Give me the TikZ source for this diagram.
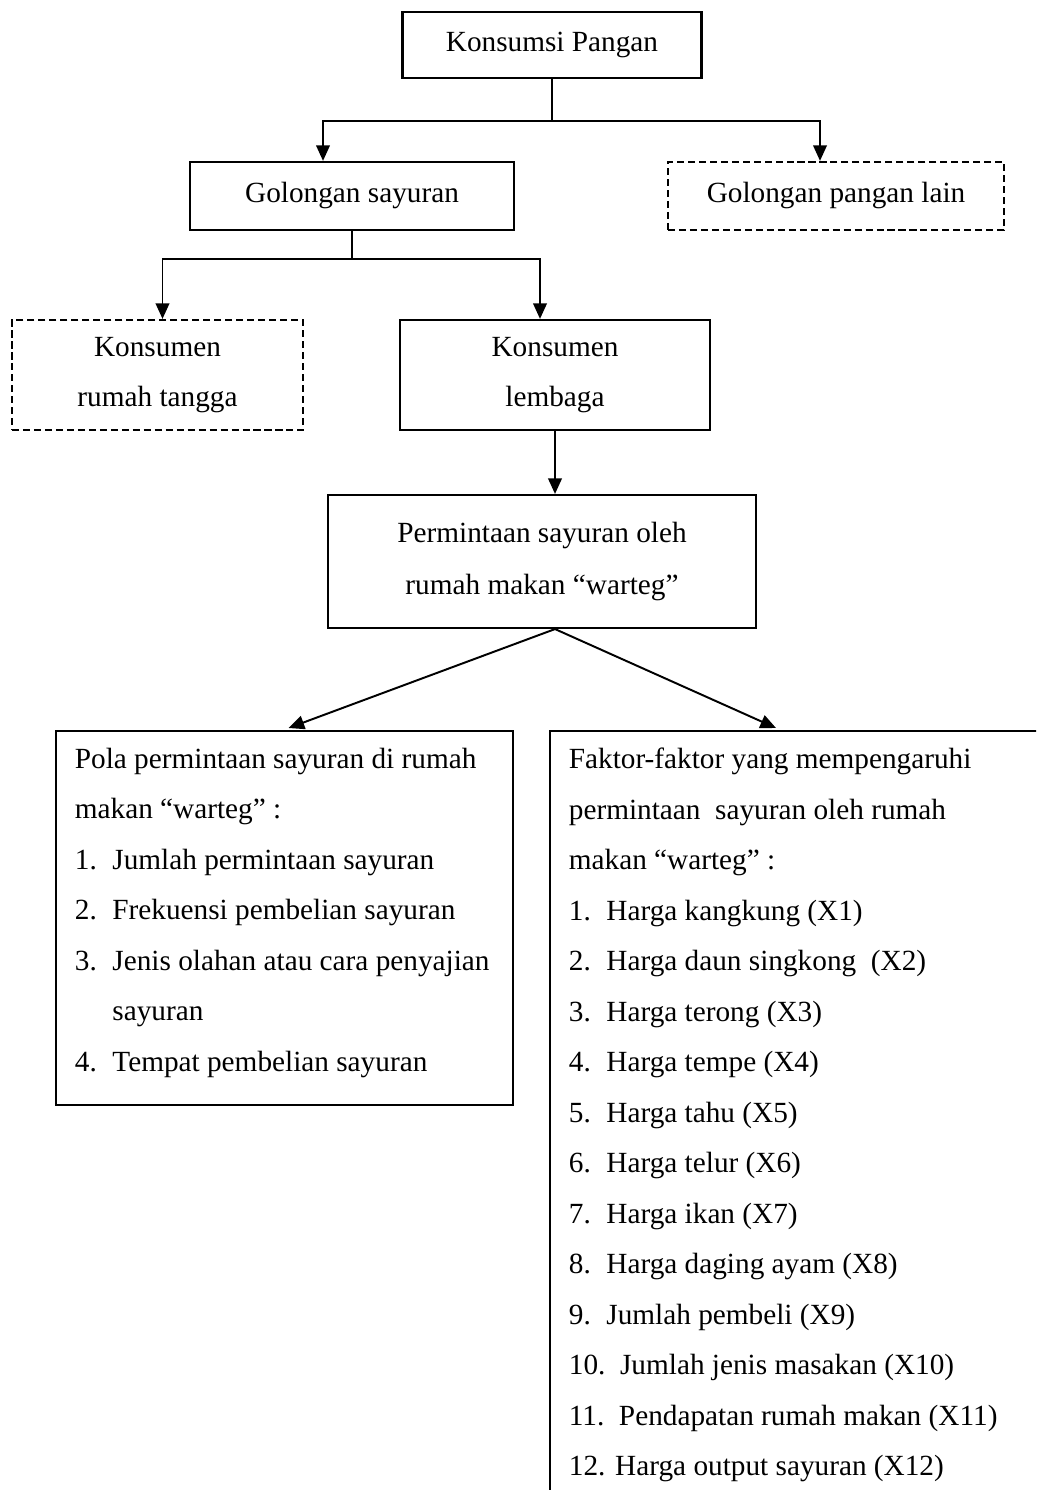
\documentclass[tikz,border=0pt]{standalone}
\usepackage{fontspec}
\setmainfont{Liberation Serif}
\usetikzlibrary{arrows.meta,calc}
\newcommand{\numitem}[1]{\makebox[15.4pt][l]{#1}}

\begin{document}
\begin{tikzpicture}[x=0.41pt,y=-0.41pt,
        font=\fontsize{12}{20.7}\selectfont,
        box/.style={draw,line width=0.9pt,align=center},
        dbox/.style={box,dash pattern=on 2.9pt off 1.6pt},
        listbox/.style={draw,line width=0.9pt,anchor=north west,align=flush left,
          inner xsep=7.7pt,inner ysep=7pt},
        arr/.style={line width=0.8pt,-{Triangle[length=6.4pt,width=5.6pt]}}]
      \useasboundingbox (0,0) rectangle (1036,1490);
      \clip (0,0) rectangle (1036,1490);
      \node[box,minimum width=122.6pt,minimum height=27.1pt] (kp) at (552,45) {Konsumsi Pangan};
      \node[box,minimum width=132.8pt,minimum height=27.9pt] (gs) at (352,196) {Golongan sayuran};
      \node[dbox,minimum width=137.8pt,minimum height=27.9pt] (gl) at (836,196) {Golongan pangan lain};
      \node[dbox,minimum width=119.3pt,minimum height=45.1pt] (rt) at (157.5,375) {Konsumen\\rumah tangga};
      \node[box,minimum width=127.1pt,minimum height=45.1pt] (lb) at (555,375) {Konsumen\\lembaga};
      \node[box,minimum width=175.5pt,minimum height=54.5pt,
        font=\fontsize{12}{21.7}\selectfont] (pm) at (542,561.5)
        {Permintaan sayuran oleh\\rumah makan “warteg”};
      \node[listbox,text width=172pt,minimum height=152.9pt] (pl) at (55,730) {%
        Pola permintaan sayuran di rumah\\
        makan “warteg” :\\
        \numitem{1.}Jumlah permintaan sayuran\\
        \numitem{2.}Frekuensi pembelian sayuran\\
        \numitem{3.}Jenis olahan atau cara penyajian\\
        \hspace*{15.4pt}sayuran\\
        \numitem{4.}Tempat pembelian sayuran\rule[-6.7pt]{0pt}{0pt}};
      \node[listbox,text width=205pt] (fk) at (549,730) {%
        Faktor-faktor yang mempengaruhi\\
        permintaan\ \ sayuran oleh rumah\\
        makan “warteg” :\\
        \numitem{1.}Harga kangkung (X1)\\
        \numitem{2.}Harga daun singkong\ \ (X2)\\
        \numitem{3.}Harga terong (X3)\\
        \numitem{4.}Harga tempe (X4)\\
        \numitem{5.}Harga tahu (X5)\\
        \numitem{6.}Harga telur (X6)\\
        \numitem{7.}Harga ikan (X7)\\
        \numitem{8.}Harga daging ayam (X8)\\
        \numitem{9.}Jumlah pembeli (X9)\\
        10.\ \ Jumlah jenis masakan (X10)\\
        11.\ \ Pendapatan rumah makan (X11)\\
        12. Harga output sayuran (X12)};
      % branches
      \draw[line width=0.8pt] (kp.south) -- ++(0,42) coordinate (j1);
      \draw[arr] (j1) -| ($(gs.north)+(-29,0)$);
      \draw[arr] (j1) -| ($(gl.north)+(-16,0)$);
      \draw[line width=0.8pt] (gs.south) -- ++(0,28) coordinate (j2);
      \draw[arr] (j2) -| ($(rt.north)+(5,0)$);
      \draw[arr] (j2) -| ($(lb.north)+(-15,0)$);
      \draw[arr] (lb.south) -- (lb.south |- pm.north);
      \draw[arr] ($(pm.south)+(13,0)$) -- ($(pl.north)+(4,-2)$);
      \draw[arr] ($(pm.south)+(13,0)$) -- ($(fk.north west)+(227,-2)$);
\end{tikzpicture}
\end{document}
